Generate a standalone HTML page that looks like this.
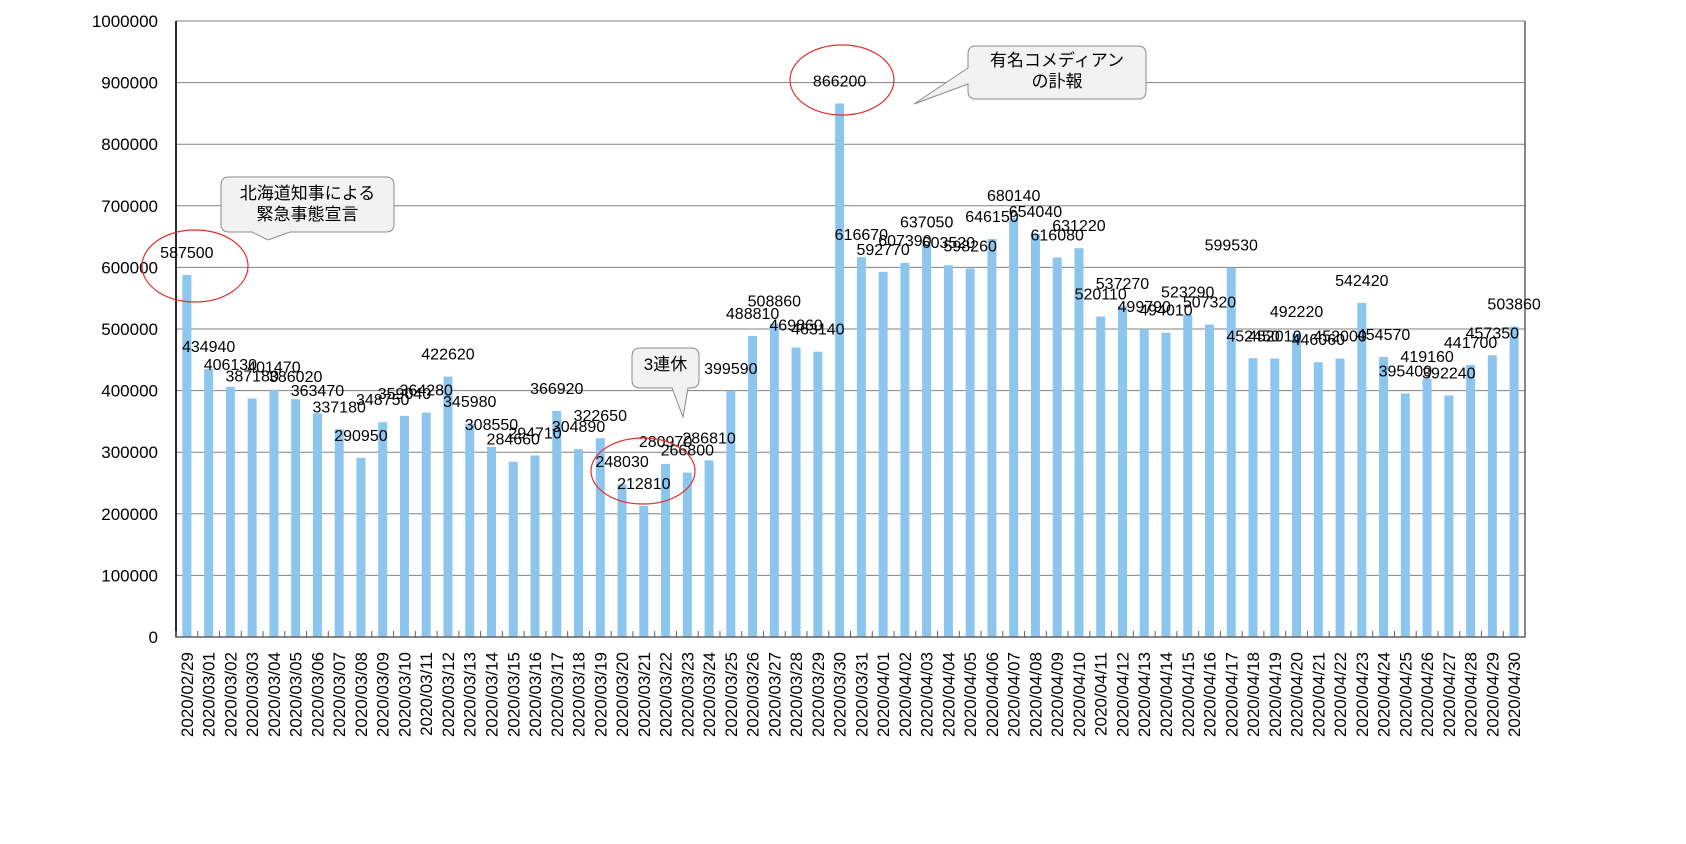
<!DOCTYPE html>
<html><head><meta charset="utf-8"><style>
html,body{margin:0;padding:0;background:#fff;}
svg{display:block;font-family:"Liberation Sans","Noto Sans CJK JP",sans-serif;}
</style></head><body>
<svg id="chart" width="1686" height="844" viewBox="0 0 1686 844"></svg>
<script>
const categories=["2020/02/29","2020/03/01","2020/03/02","2020/03/03","2020/03/04","2020/03/05","2020/03/06","2020/03/07","2020/03/08","2020/03/09","2020/03/10","2020/03/11","2020/03/12","2020/03/13","2020/03/14","2020/03/15","2020/03/16","2020/03/17","2020/03/18","2020/03/19","2020/03/20","2020/03/21","2020/03/22","2020/03/23","2020/03/24","2020/03/25","2020/03/26","2020/03/27","2020/03/28","2020/03/29","2020/03/30","2020/03/31","2020/04/01","2020/04/02","2020/04/03","2020/04/04","2020/04/05","2020/04/06","2020/04/07","2020/04/08","2020/04/09","2020/04/10","2020/04/11","2020/04/12","2020/04/13","2020/04/14","2020/04/15","2020/04/16","2020/04/17","2020/04/18","2020/04/19","2020/04/20","2020/04/21","2020/04/22","2020/04/23","2020/04/24","2020/04/25","2020/04/26","2020/04/27","2020/04/28","2020/04/29","2020/04/30"];
const values=[587500,434940,406130,387180,401470,386020,363470,337180,290950,348750,359040,364280,422620,345980,308550,284660,294710,366920,304890,322650,248030,212810,280970,266800,286810,399590,488810,508860,469860,463140,866200,616670,592770,607390,637050,603520,598260,646150,680140,654040,616080,631220,520110,537270,499790,494010,523290,507320,599530,452450,452010,492220,446060,452000,542420,454570,395400,419160,392240,441700,457350,503860];
const yTicks=[0,100000,200000,300000,400000,500000,600000,700000,800000,900000,1000000];
const L=176,R=1525,T=21,B=637,YMAX=1000000;
const svg=document.getElementById('chart');
const NS='http://www.w3.org/2000/svg';
function y(v){return B-(v/YMAX)*(B-T);}
const band=(R-L)/categories.length;
function x(i){return L+band*(i+0.5);}
function mk(tag,attrs,parent){const e=document.createElementNS(NS,tag);for(const k in attrs)e.setAttribute(k,attrs[k]);(parent||svg).appendChild(e);return e;}
yTicks.forEach(t=>{
  const g=mk('line',{x1:L,x2:R,y1:y(t),y2:y(t),stroke:'#808080','stroke-width':1});
  
  
  const tx=mk('text',{x:L-18,y:y(t)+6,'text-anchor':'end','font-size':17,fill:'#000'});
  tx.textContent=t;
  
  
});
values.forEach((v,i)=>{
  const r=mk('rect',{x:x(i)-4.5,y:y(v),width:9,height:B-y(v),fill:'#8cc6ee'});
  
  
});
const ax=mk('path',{d:`M${L},${T} L${L},${B} L${R},${B} L${R},${T}`,fill:'none',stroke:'#606060','stroke-width':1.5});


const yax=mk('line',{x1:L,x2:L,y1:T,y2:B,stroke:'#000','stroke-width':1.5});


for(let i=0;i<=categories.length;i++){
  const tk=mk('line',{x1:L+band*i,x2:L+band*i,y1:B-6,y2:B,stroke:'#606060'});
  
  
}
categories.forEach((c,i)=>{
  const t=mk('text',{transform:`translate(${x(i)+6},${B+15}) rotate(-90)`,'text-anchor':'end','font-size':17,fill:'#000'});
  t.textContent=c;
  
  
});
values.forEach((v,i)=>{
  const t=mk('text',{x:x(i),y:y(v)-17,'text-anchor':'middle','font-size':16,fill:'#000'});
  t.textContent=v;
  
  
});
[[195,266,53,36],[643,471,52,33],[842,80,52,35]].forEach(e=>{
  const el=mk('ellipse',{cx:e[0],cy:e[1],rx:e[2],ry:e[3],fill:'none',stroke:'#e03030','stroke-width':1.2});
  
  
});
function callout(x0,y0,w,h,px,py,bx1,bx2,lines,name){
  const d=`M${x0+8},${y0} H${x0+w-8} Q${x0+w},${y0} ${x0+w},${y0+8} V${y0+h-8} Q${x0+w},${y0+h} ${x0+w-8},${y0+h} H${bx2} L${px},${py} L${bx1},${y0+h} H${x0+8} Q${x0},${y0+h} ${x0},${y0+h-8} V${y0+8} Q${x0},${y0} ${x0+8},${y0} Z`;
  const p=mk('path',{d,fill:'#f2f2f2',stroke:'#8a8a8a','stroke-width':1});
  
  
  lines.forEach((ln,k)=>{
    const t=mk('text',{x:x0+w/2,y:y0+22+k*21,'text-anchor':'middle','font-size':17,fill:'#000'});
    t.textContent=ln;
    
    
  });
}
callout(221,177,173,55,268,240,252,290,["北海道知事による","緊急事態宣言"],'callout-emergency');
callout(632,348,67,40,683,417,672,688,["3連休"],'callout-holiday');
(function(){
  const x0=968,y0=46,w=178,h=53;
  const d=`M${x0+8},${y0} H${x0+w-8} Q${x0+w},${y0} ${x0+w},${y0+8} V${y0+h-8} Q${x0+w},${y0+h} ${x0+w-8},${y0+h} H${x0+8} Q${x0},${y0+h} ${x0},${y0+h-8} V${y0+38} L914,104 L${x0},${y0+22} V${y0+8} Q${x0},${y0} ${x0+8},${y0} Z`;
  const p=mk('path',{d,fill:'#f2f2f2',stroke:'#8a8a8a','stroke-width':1});
  
  
  ["有名コメディアン","の訃報"].forEach((ln,k)=>{
    const t=mk('text',{x:x0+w/2,y:y0+20+k*21,'text-anchor':'middle','font-size':17,fill:'#000'});
    t.textContent=ln;
    
    
  });
})();
</script>
</body></html>
